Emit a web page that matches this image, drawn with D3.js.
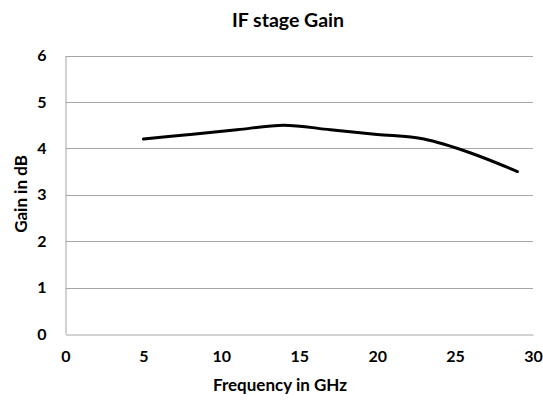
<!DOCTYPE html>
<html>
<head>
<meta charset="utf-8">
<script src="https://cdn.jsdelivr.net/npm/d3@7"></script>
<style>
  html, body { margin: 0; padding: 0; background: #fff; }
  svg { display: block; font-family: Lato, "Open Sans", sans-serif; font-weight: bold; }
</style>
</head>
<body>
<svg id="chart" width="543" height="403"></svg>
<script>
// IF stage gain versus frequency
const frequencies = [5, 8, 11, 14, 17, 20, 23, 26, 29];
const gains = [4.2, 4.3, 4.4, 4.5, 4.4, 4.3, 4.2, 3.9, 3.5];
const xTicks = [0, 5, 10, 15, 20, 25, 30];
const yTicks = [0, 1, 2, 3, 4, 5, 6];

const svg = d3.select("#chart");

const x = d3.scaleLinear().domain([0, 30]).range([65.5, 533]);
const y = d3.scaleLinear().domain([0, 6]).range([334, 55.5]);

const gridColor = "#a6a6a6";

// horizontal gridlines
svg.append("g")
  .selectAll("line")
  .data(yTicks.filter(d => d > 0))
  .join("line")
  .attr("x1", x(0)).attr("x2", x(30))
  .attr("y1", d => Math.round(y(d)) + 0.5).attr("y2", d => Math.round(y(d)) + 0.5)
  .attr("stroke", gridColor).attr("stroke-width", 1);

// y axis
const yAxis = svg.append("g")
  .attr("transform", `translate(${x(0)},0)`)
  .call(d3.axisLeft(y).tickValues(yTicks).tickSize(0).tickPadding(19).tickFormat(d3.format("d")));
yAxis.select(".domain").attr("stroke", gridColor);
yAxis.selectAll("text").attr("font-size", 16).attr("font-family", "Lato, sans-serif").attr("font-weight", "bold").attr("fill", "#000");

// x axis
const xAxis = svg.append("g")
  .attr("transform", `translate(0,${Math.round(y(0)) + 0.5})`)
  .call(d3.axisBottom(x).tickValues(xTicks).tickSize(0).tickPadding(16).tickFormat(d3.format("d")));
xAxis.select(".domain").attr("stroke", gridColor);
xAxis.selectAll("text").attr("font-size", 16).attr("font-family", "Lato, sans-serif").attr("font-weight", "bold").attr("fill", "#000");

// gain curve
const line = d3.line()
  .x((d, i) => x(frequencies[i]))
  .y(d => y(d))
  .curve(d3.curveCatmullRom.alpha(0));
svg.append("path")
  .datum(gains)
  .attr("d", line)
  .attr("fill", "none")
  .attr("stroke", "#000")
  .attr("stroke-width", 3)
  .attr("stroke-linecap", "round")
  .attr("stroke-linejoin", "round");

// titles
svg.append("text")
  .attr("x", 288).attr("y", 27)
  .attr("text-anchor", "middle")
  .attr("font-size", 19.5)
  .text("IF stage Gain");

svg.append("text")
  .attr("x", 280).attr("y", 391)
  .attr("text-anchor", "middle")
  .attr("font-size", 17)
  .text("Frequency in GHz");

svg.append("text")
  .attr("transform", "translate(27,194) rotate(-90)")
  .attr("text-anchor", "middle")
  .attr("font-size", 17)
  .text("Gain in dB");
</script>
</body>
</html>
